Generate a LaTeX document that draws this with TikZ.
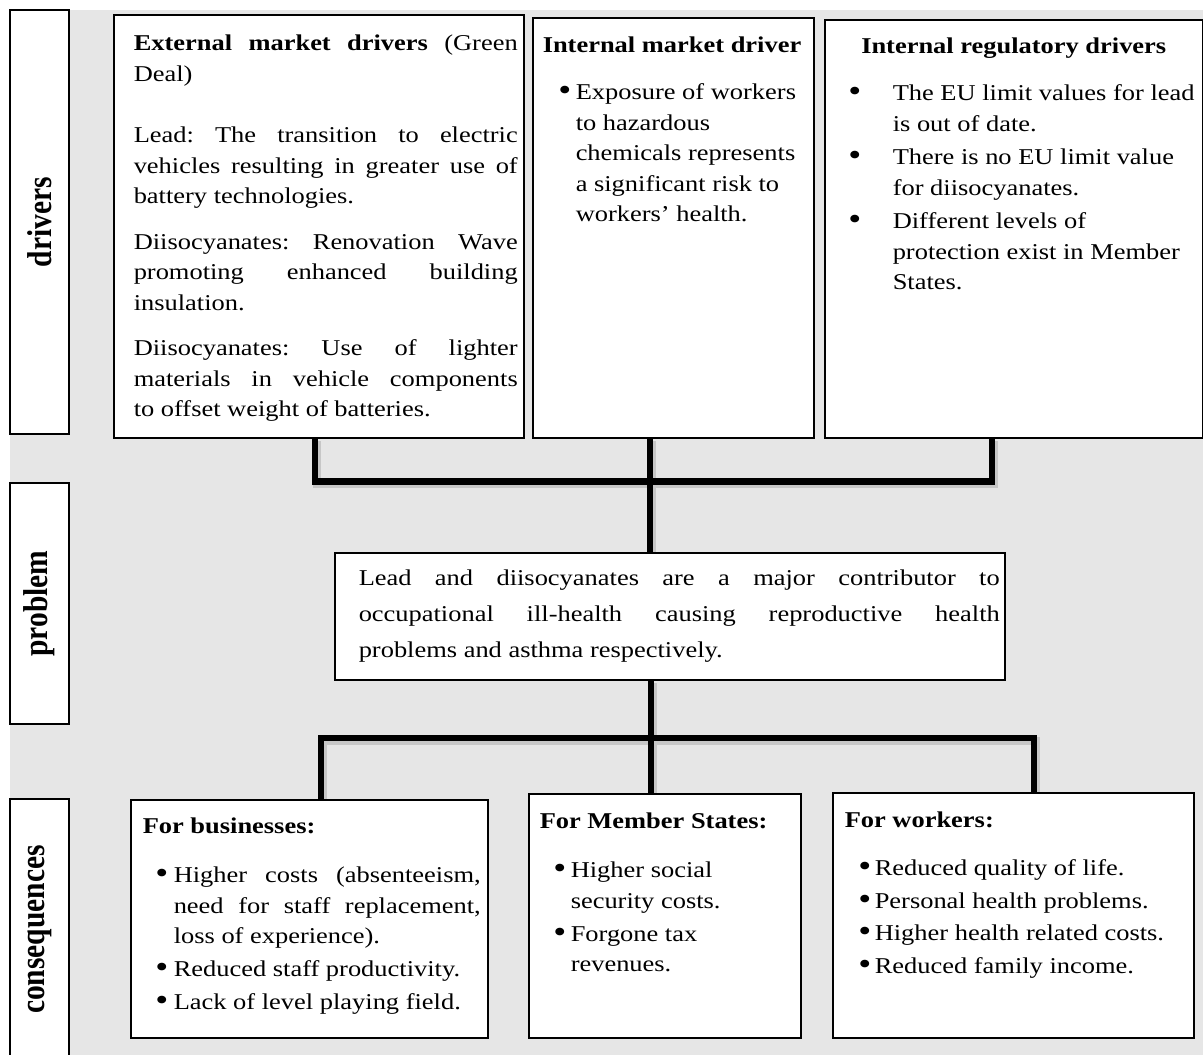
\documentclass[tikz,border=0pt]{standalone}
\usepackage{fontspec}
\setmainfont{Liberation Serif}[FakeStretch=1.17]
\newfontfamily\labfont{Liberation Serif}
\usepackage{graphicx}
\usetikzlibrary{calc}
\pgfdeclarelayer{background}
\pgfsetlayers{background,main}
\definecolor{bggray}{RGB}{230,230,230}
\frenchspacing
\newdimen\bx \newdimen\tx
\newcommand\st{\vrule height20pt depth8pt width0pt\relax}
\newcommand\bul{\raisebox{-1.2pt}{\scalebox{1.4}{\textbullet}}}
\newcommand\jl[1]{\hbox to\hsize{\st#1}}
\newcommand\rl[1]{\hbox to\hsize{\st#1\hss}}
\newcommand\cl[1]{\hbox to\hsize{\st\hss#1\hss}}
\newcommand\bfl[1]{\hbox to\hsize{\st\hskip\bx\relax\rlap{\bul}\hskip\dimexpr\tx-\bx\relax#1\hss}}
\newcommand\bfj[1]{\hbox to\hsize{\st\hskip\bx\relax\rlap{\bul}\hskip\dimexpr\tx-\bx\relax#1}}
\newcommand\bcl[1]{\hbox to\hsize{\st\hskip\tx\relax#1\hss}}
\newcommand\bcj[1]{\hbox to\hsize{\st\hskip\tx\relax#1}}
\newcommand\panel[5]{\vbox to#2{\hrule height0pt width#1\relax\vskip\dimexpr#4-20pt\relax\moveright#3\vbox{#5}\vfil}}
\newcommand\lab[1]{\scalebox{1.17}[1]{\rotatebox{90}{#1}}}
\tikzset{
  panelbox/.style={draw, line width=1.5pt, fill=white, inner sep=0pt, anchor=north west,
    font=\fontsize{22.6pt}{30.5pt}\selectfont},
  labbox/.style={draw, line width=1.5pt, fill=white, inner sep=0pt, minimum width=59pt,
    font=\labfont\fontsize{29.5pt}{32pt}\selectfont\bfseries},
  conn/.style={line width=6.5pt, draw=black, line join=miter},
  shad/.style={line width=8pt, draw=black!22, line join=miter}
}
\begin{document}
\begin{tikzpicture}[x=1pt,y=-1pt]
\useasboundingbox (0,0) rectangle (1203,1055);

% label boxes
\node[labbox, minimum height=424pt] (ldrv) at (39.5,222) {\lab{drivers}};
\node[labbox, minimum height=241pt] (lprob) at (39.5,603.5) {\lab{problem}};
\node[labbox, minimum height=261pt] (lcons) at (39.5,929.5) {\lab{consequences}};

% drivers
\node[panelbox] (ext) at (113,14) {\panel{410pt}{423pt}{20pt}{36pt}{\hsize=384pt
\jl{\textbf{External market drivers} (Green}
\rl{Deal)}
\vskip31pt
\jl{Lead: The transition to electric}
\jl{vehicles resulting in greater use of}
\rl{battery technologies.}
\vskip15pt
\jl{Diisocyanates: Renovation Wave}
\jl{promoting enhanced building}
\rl{insulation.}
\vskip15pt
\jl{Diisocyanates: Use of lighter}
\jl{materials in vehicle components}
\rl{to offset weight of batteries.}}};

\node[panelbox] (imd) at (532,17) {\panel{281pt}{420pt}{10pt}{35pt}{\hsize=265pt \bx=15.5pt \tx=33pt
\rl{\textbf{Internal market driver}}
\vskip16.5pt
\bfl{Exposure of workers}
\bcl{to hazardous}
\bcl{chemicals represents}
\bcl{a significant risk to}
\bcl{workers’ health.}}};

\node[panelbox] (ird) at (824,19) {\panel{378pt}{418pt}{10pt}{34pt}{\hsize=358pt \bx=13.5pt \tx=58pt
\cl{\textbf{Internal regulatory drivers}}
\vskip16.5pt
\bfl{The EU limit values for lead}
\bcl{is out of date.}
\vskip3pt
\bfl{There is no EU limit value}
\bcl{for diisocyanates.}
\vskip3pt
\bfl{Different levels of}
\bcl{protection exist in Member}
\bcl{States.}}};

% problem
\node[panelbox] (prob) at (334,552) {\panel{670pt}{127pt}{24pt}{33pt}{\baselineskip=36pt \hsize=641pt
\jl{Lead and diisocyanates are a major contributor to}
\jl{occupational ill-health causing reproductive health}
\rl{problems and asthma respectively.}}};

% consequences
\node[panelbox] (bus) at (130,799) {\panel{357pt}{238pt}{12pt}{34pt}{\hsize=338pt \bx=12.5pt \tx=31pt
\rl{\textbf{For businesses:}}
\vskip18.5pt
\bfj{Higher costs (absenteeism,}
\bcj{need for staff replacement,}
\bcl{loss of experience).}
\vskip2.5pt
\bfl{Reduced staff productivity.}
\vskip2.5pt
\bfl{Lack of level playing field.}}};

\node[panelbox] (ms) at (528,793) {\panel{272pt}{244pt}{11pt}{35pt}{\hsize=255pt \bx=13.5pt \tx=31pt
\rl{\textbf{For Member States:}}
\vskip18.5pt
\bfl{Higher social}
\bcl{security costs.}
\vskip2.5pt
\bfl{Forgone tax}
\bcl{revenues.}}};

\node[panelbox] (wk) at (832,792) {\panel{361pt}{245pt}{12pt}{35pt}{\hsize=343pt \bx=13.5pt \tx=30pt
\rl{\textbf{For workers:}}
\vskip17.5pt
\bfl{Reduced quality of life.}
\vskip2pt
\bfl{Personal health problems.}
\vskip2pt
\bfl{Higher health related costs.}
\vskip2pt
\bfl{Reduced family income.}}};

% junction coordinates
\coordinate (tA) at (315,481.5);
\coordinate (tB) at (650,481.5);
\coordinate (tC) at (992,481.5);
\coordinate (bA) at (321,738);
\coordinate (bB) at (651,738);
\coordinate (bC) at (1034,738);

\begin{pgfonlayer}{background}
\fill[bggray] (10,10) rectangle (1203,1055);
\begin{scope}[transform canvas={shift={(1.5pt,-2.5pt)}}]
\draw[shad] (ext.south -| tA) -- (tA) -- (tC) -- (ird.south -| tC);
\draw[shad] (imd.south -| tB) -- (prob.north -| tB);
\draw[shad] (bus.north -| bA) -- (bA) -- (bC) -- (wk.north -| bC);
\draw[shad] (prob.south -| bB) -- (ms.north -| bB);
\end{scope}
\draw[conn] (ext.south -| tA) -- (tA) -- (tC) -- (ird.south -| tC);
\draw[conn] (imd.south -| tB) -- (prob.north -| tB);
\draw[conn] (bus.north -| bA) -- (bA) -- (bC) -- (wk.north -| bC);
\draw[conn] (prob.south -| bB) -- (ms.north -| bB);
\end{pgfonlayer}
\end{tikzpicture}
\end{document}
